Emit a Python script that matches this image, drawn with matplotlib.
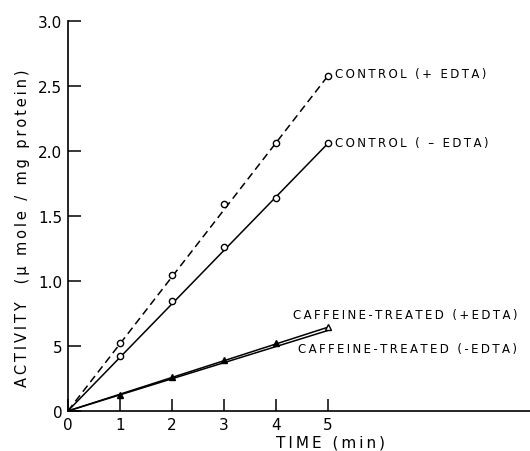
import matplotlib
matplotlib.use("Agg")
import matplotlib.pyplot as plt

# measured points
time_pts = [1, 2, 3, 4, 5]
ctrl_plus = [0.52, 1.05, 1.59, 2.06, 2.58]
ctrl_minus = [0.42, 0.85, 1.26, 1.64, 2.06]
caf_minus = [0.12, 0.26, 0.39, 0.52]
caf_plus_end = [0.65]

# fitted lines (from origin to 5 min)
line_t = [0, 5]
ctrl_plus_line = [0, 2.58]
ctrl_minus_line = [0, 2.06]
caf_plus_line = [0, 0.645]
caf_minus_line = [0, 0.62]

yticks = [0, 0.5, 1.0, 1.5, 2.0, 2.5, 3.0]
ytick_labels = ["0", "5", "1.0", "1.5", "2.0", "2.5", "3.0"]
xticks = [0, 1, 2, 3, 4, 5]


def spaced(s):
    # widen letters a bit, like the lettering of the original
    return "\u2009".join(s)


fig = plt.figure(figsize=(5.3, 4.52), dpi=100)
ax = fig.add_axes([0.128, 0.0885, 0.872, 0.8625])

ax.plot(line_t, ctrl_plus_line, color="black", lw=1.1, ls=(0, (5, 3)))
ax.plot(line_t, ctrl_minus_line, color="black", lw=1.1)
ax.plot(line_t, caf_plus_line, color="black", lw=1.1)
ax.plot(line_t, caf_minus_line, color="black", lw=1.1)

ax.plot(time_pts, ctrl_plus, "o", ms=4.5, mfc="white", mec="black", mew=1)
ax.plot(time_pts, ctrl_minus, "o", ms=4.5, mfc="white", mec="black", mew=1)
ax.plot(time_pts[:4], caf_minus, "^", ms=5, color="black")
ax.plot(time_pts[4:], caf_plus_end, "^", ms=5, mfc="white", mec="black", mew=1)

ax.set_xlim(0, 8.88)
ax.set_ylim(0, 3.0)
for s in ["top", "right"]:
    ax.spines[s].set_visible(False)
ax.spines["left"].set_linewidth(1.2)
ax.spines["bottom"].set_linewidth(1.2)

ax.set_yticks(yticks)
ax.set_yticklabels(ytick_labels)
ax.set_xticks(xticks)
ax.tick_params(direction="in", length=9, width=1.1, labelsize=11, pad=4)
ax.tick_params(axis="x", pad=4)

fig.text(330 / 530, 1 - 443 / 452, spaced("TIME (min)"), fontsize=11,
         ha="center", va="center")
ax.set_ylabel(spaced("ACTIVITY  (\u03bc mole / mg protein)"), fontsize=10.5,
              y=0.472, labelpad=6)

ax.text(5.13, 2.6, spaced("CONTROL (+ EDTA)"), fontsize=8.5, va="center")
ax.text(5.13, 2.07, spaced("CONTROL ( \u2013 EDTA)"), fontsize=8.5, va="center")
ax.text(4.33, 0.74, spaced("CAFFEINE-TREATED (+EDTA)"), fontsize=8.5, va="center")
ax.text(4.42, 0.48, spaced("CAFFEINE-TREATED (-EDTA)"), fontsize=8.5, va="center")

fig.savefig("out.png", dpi=100)
